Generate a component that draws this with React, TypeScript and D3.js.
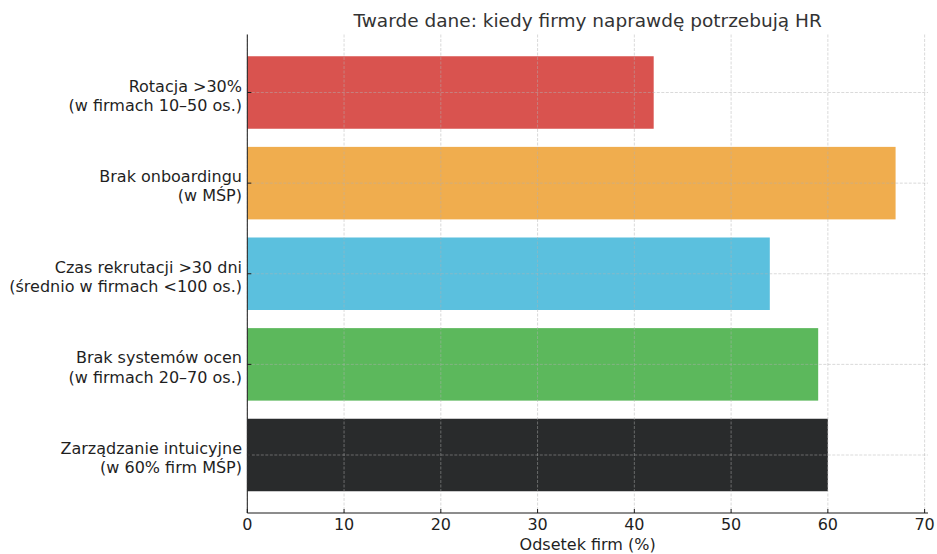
import React from "react";
import * as d3 from "d3";

const categories: string[][] = [
  ["Rotacja >30%", "(w firmach 10–50 os.)"],
  ["Brak onboardingu", "(w MŚP)"],
  ["Czas rekrutacji >30 dni", "(średnio w firmach <100 os.)"],
  ["Brak systemów ocen", "(w firmach 20–70 os.)"],
  ["Zarządzanie intuicyjne", "(w 60% firm MŚP)"],
];
const values: number[] = [42, 67, 54, 59, 60];
const colors: string[] = ["#d9534f", "#f0ad4e", "#5bc0de", "#5cb85c", "#292b2c"];
const xTicks: number[] = [0, 10, 20, 30, 40, 50, 60, 70];
const title = "Twarde dane: kiedy firmy naprawdę potrzebują HR";
const xLabel = "Odsetek firm (%)";

const W = 937;
const H = 554;
const left = 247.3;
const right = 928;
const top = 34.5;
const bottom = 513;
const font = "'DejaVu Sans', sans-serif";

export default function App() {
  const xMax = d3.max(values)! * 1.05;
  const x = d3.scaleLinear().domain([0, xMax]).range([left, right]);
  const n = categories.length;
  const y = d3.scaleLinear().domain([-0.64, n - 1 + 0.64]).range([top, bottom]);
  const bh = y(0.4) - y(-0.4);
  const gridColor = "#b0b0b0";
  return (
    <svg width={W} height={H} style={{ position: "absolute", left: 0, top: 0, background: "#fff" }} fontFamily={font}>
      {values.map((v, i) => (
        <rect key={"b" + i} x={x(0)} y={y(i) - bh / 2} width={x(v) - x(0)} height={bh} fill={colors[i]} />
      ))}
      {xTicks.map((t) => (
        <line key={"gx" + t} x1={x(t)} x2={x(t)} y1={top} y2={bottom} stroke={gridColor} strokeOpacity={0.6} strokeWidth={0.8} strokeDasharray="3,1.5" />
      ))}
      {values.map((_, i) => (
        <line key={"gy" + i} x1={left} x2={right} y1={y(i)} y2={y(i)} stroke={gridColor} strokeOpacity={0.6} strokeWidth={0.8} strokeDasharray="3,1.5" />
      ))}
      <line x1={left} x2={left} y1={top} y2={bottom} stroke="#1a1a1a" strokeWidth={1} />
      <line x1={left} x2={right} y1={bottom} y2={bottom} stroke="#1a1a1a" strokeWidth={1} />
      {xTicks.map((t) => (
        <g key={"xt" + t}>
          <line x1={x(t)} x2={x(t)} y1={bottom} y2={bottom - 4} stroke="#1a1a1a" strokeWidth={1} />
          <text x={x(t)} y={530} textAnchor="middle" fontSize={16} fill="#1f1f1f">{t}</text>
        </g>
      ))}
      {categories.map((lines, i) => (
        <g key={"yt" + i}>
          <line x1={left} x2={left + 4} y1={y(i)} y2={y(i)} stroke="#1a1a1a" strokeWidth={1} />
          <text x={242} y={y(i) - 1} textAnchor="end" fontSize={16} fill="#1f1f1f">
            <tspan x={242} dy={0}>{lines[0]}</tspan>
            <tspan x={242} dy={19.2}>{lines[1]}</tspan>
          </text>
        </g>
      ))}
      <text x={(left + right) / 2} y={550} textAnchor="middle" fontSize={16} fill="#1f1f1f">{xLabel}</text>
      <text x={(left + right) / 2} y={27} textAnchor="middle" fontSize={18.5} fill="#333">{title}</text>
    </svg>
  );
}
